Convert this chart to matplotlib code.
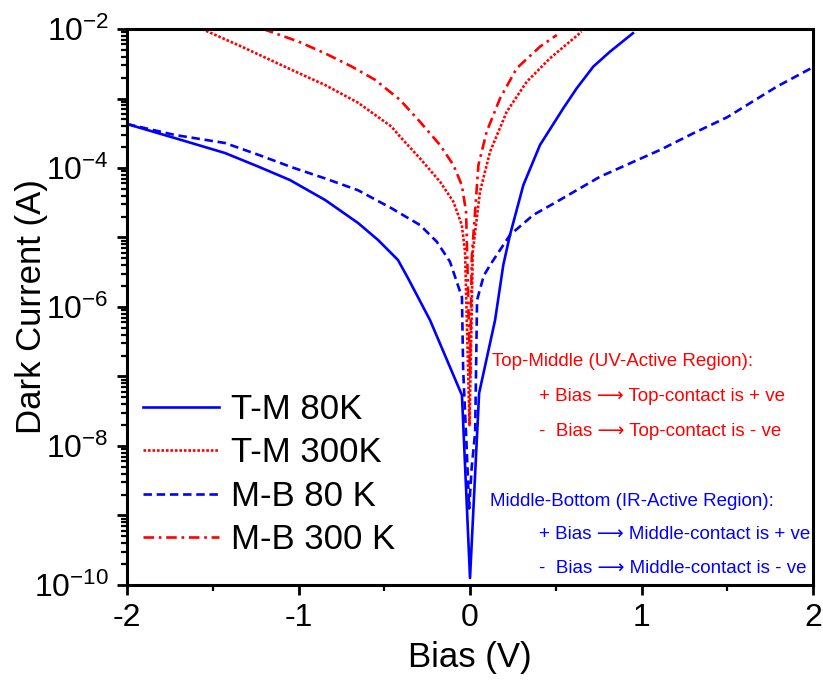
import matplotlib
matplotlib.use('Agg')
import matplotlib.pyplot as plt
import numpy as np
from matplotlib.ticker import FixedLocator, FuncFormatter, LogLocator, NullFormatter, MultipleLocator

plt.rcParams['font.family'] = ['Liberation Sans', 'DejaVu Sans']
plt.rcParams['mathtext.fontset'] = 'custom'
plt.rcParams['mathtext.rm'] = 'Liberation Sans'
plt.rcParams['mathtext.it'] = 'Liberation Sans'

# T-M 80K (solid blue), log10 of current
v_tm80 = [-2.0, -1.72, -1.429, -1.234, -1.05, -0.845, -0.653, -0.536, -0.42, -0.362, -0.233, -0.047, 0.0,
          0.053, 0.146, 0.194, 0.233, 0.311, 0.408, 0.544, 0.622, 0.719, 0.816, 0.95]
logi_tm80 = [-3.367, -3.57, -3.784, -3.98, -4.173, -4.46, -4.791, -5.036, -5.324, -5.583, -6.19, -7.27, -9.9,
             -7.24, -6.19, -5.396, -4.964, -4.245, -3.669, -3.14, -2.853, -2.54, -2.326, -2.06]

# T-M 300K (dotted red)
v_tm300 = [-1.563, -1.331, -1.038, -0.845, -0.653, -0.457, -0.408, -0.292, -0.175, -0.097, -0.048, -0.029, -0.003,
           0.008, 0.016, 0.058, 0.117, 0.214, 0.331, 0.466, 0.651]
logi_tm300 = [-2.0, -2.254, -2.59, -2.806, -3.06, -3.406, -3.549, -3.861, -4.197, -4.485, -4.82, -5.204, -7.7,
              -6.3, -5.204, -4.341, -3.765, -3.19, -2.758, -2.422, -2.038]

# M-B 80 K (dashed blue)
v_mb80 = [-2.0, -1.72, -1.429, -1.234, -1.038, -0.845, -0.653, -0.457, -0.408, -0.292, -0.194, -0.117, -0.047,
          -0.04, -0.02, -0.005, 0.01, 0.03, 0.041, 0.08, 0.117, 0.233, 0.369, 0.506, 0.758, 1.108, 1.302,
          1.499, 1.788, 2.0]
logi_mb80 = [-3.367, -3.525, -3.64, -3.81, -3.99, -4.15, -4.32, -4.58, -4.652, -4.82, -5.06, -5.348, -5.86,
             -6.9, -8.0, -8.9, -8.3, -7.8, -5.9, -5.55, -5.396, -4.964, -4.676, -4.485, -4.125, -3.74, -3.50,
             -3.27, -2.83, -2.55]

# M-B 300 K (dash-dot red)
v_mb300 = [-1.207, -1.001, -0.845, -0.69, -0.554, -0.408, -0.292, -0.175, -0.097, -0.048, -0.023, -0.016, 0.0,
           0.010, 0.049, 0.097, 0.175, 0.272, 0.408, 0.506]
logi_mb300 = [-2.0, -2.18, -2.35, -2.54, -2.73, -3.02, -3.334, -3.669, -3.957, -4.245, -4.629, -5.295, -7.0,
              -5.295, -3.957, -3.478, -2.998, -2.566, -2.254, -2.086]

fig = plt.figure(figsize=(8.23, 6.81), dpi=100)
ax = fig.add_axes([0.1543, 0.1410, 0.8336, 0.8164])

lw = 1.9
ax.plot(v_tm80, 10**np.array(logi_tm80), color='blue', lw=lw, ls='-', label='T-M 80K')
ax.plot(v_tm300, 10**np.array(logi_tm300), color='red', lw=lw, ls=(0, (1.0, 0.7)), label='T-M 300K')
ax.plot(v_mb80, 10**np.array(logi_mb80), color='blue', lw=lw, ls=(0, (3.2, 1.8)), label='M-B 80 K')
ax.plot(v_mb300, 10**np.array(logi_mb300), color='red', lw=lw, ls=(0, (4, 1.8, 1, 1.8)), label='M-B 300 K')

ax.set_yscale('log')
ax.set_xlim(-2, 2)
ax.set_ylim(1e-10, 1e-2)

ax.xaxis.set_major_locator(MultipleLocator(1))
ax.xaxis.set_minor_locator(MultipleLocator(0.5))
ax.xaxis.set_major_formatter(FuncFormatter(lambda v, p: '%d' % v))

ax.yaxis.set_major_locator(FixedLocator([10.0**k for k in range(-10, -1)]))
ax.yaxis.set_minor_locator(LogLocator(base=10, subs=np.arange(2, 10), numticks=100))
ax.yaxis.set_minor_formatter(NullFormatter())

def ylab(v, p):
    k = int(round(np.log10(v)))
    if k % 2:
        return ''
    return r'$\mathregular{10^{%d}}$' % k

ax.yaxis.set_major_formatter(FuncFormatter(ylab))

for s in ax.spines.values():
    s.set_linewidth(2.2)
ax.tick_params(which='major', direction='out', length=7, width=2, labelsize=23, pad=6)
ax.tick_params(which='minor', direction='out', length=4, width=1.6)
ax.tick_params(which='both', top=False, right=False)

ax.set_xlabel('Bias (V)', fontsize=25, labelpad=6)
ax.set_ylabel('Dark Current (A)', fontsize=25)
ax.yaxis.set_label_coords(-0.115, 0.5)

leg = ax.legend(loc='lower left', bbox_to_anchor=(0.003, 0.027), frameon=False, fontsize=25,
                handlelength=2.2, handletextpad=0.35, labelspacing=0.3, borderaxespad=0)

arr = '\u27f6'
fs = 13.5
ax.text(0.532, 0.402, 'Top-Middle (UV-Active Region):', transform=ax.transAxes,
        color='red', fontsize=fs, va='center')
ax.text(0.601, 0.339, '+ Bias ' + arr + ' Top-contact is + ve', transform=ax.transAxes,
        color='red', fontsize=fs, va='center')
ax.text(0.601, 0.276, '-  Bias ' + arr + ' Top-contact is - ve', transform=ax.transAxes,
        color='red', fontsize=fs, va='center')
ax.text(0.529, 0.151, 'Middle-Bottom (IR-Active Region):', transform=ax.transAxes,
        color='blue', fontsize=fs, va='center')
ax.text(0.601, 0.090, '+ Bias ' + arr + ' Middle-contact is + ve', transform=ax.transAxes,
        color='blue', fontsize=fs, va='center')
ax.text(0.601, 0.029, '-  Bias ' + arr + ' Middle-contact is - ve', transform=ax.transAxes,
        color='blue', fontsize=fs, va='center')

fig.savefig('out.png', dpi=100)
